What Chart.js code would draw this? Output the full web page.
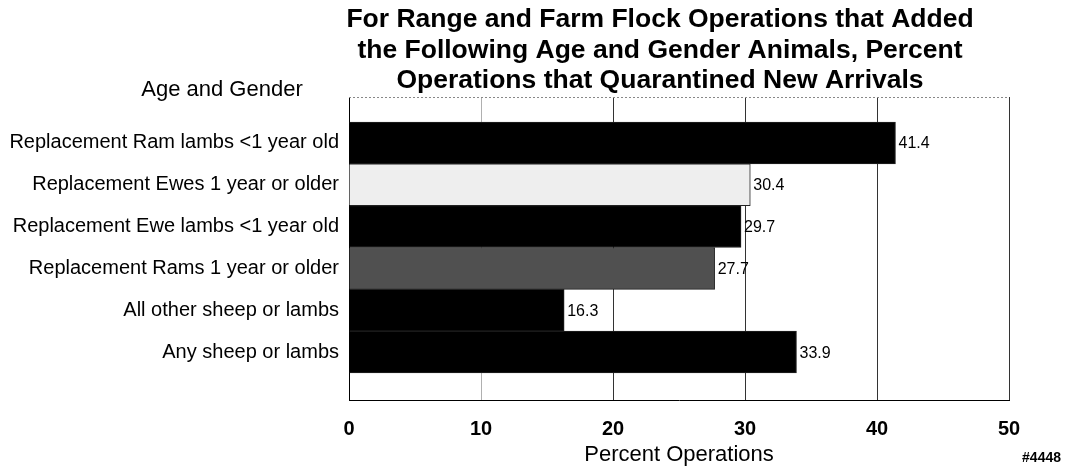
<!DOCTYPE html>
<html><head><meta charset="utf-8">
<script src="https://cdn.jsdelivr.net/npm/chart.js@4.4.1/dist/chart.umd.min.js"></script>
<style>html,body{margin:0;padding:0;background:#fff}#wrap{width:1065px;height:472px;position:relative;background:#fff}</style>
</head><body><div id="wrap"><canvas id="c"></canvas></div>
<script>
const categories = [
  'Replacement Ram lambs <1 year old',
  'Replacement Ewes 1 year or older',
  'Replacement Ewe lambs <1 year old',
  'Replacement Rams 1 year or older',
  'All other sheep or lambs',
  'Any sheep or lambs'
];
const values = [41.4, 30.4, 29.7, 27.7, 16.3, 33.9];
const barColors = ['#000000', '#eeeeee', '#000000', '#505050', '#000000', '#000000'];
const xTickValues = [0, 10, 20, 30, 40, 50];
const titleLines = [
  'For Range and Farm Flock Operations that Added',
  'the Following Age and Gender Animals, Percent',
  'Operations that Quarantined New Arrivals'
];
const yAxisTitle = 'Age and Gender';
const xAxisTitle = 'Percent Operations';
const figureId = '#4448';

const FONT = '"Liberation Sans", Arial, sans-serif';

const textPlugin = {
  id: 'texts',
  afterDraw(chart) {
    const ctx = chart.ctx;
    ctx.save();
    ctx.fillStyle = '#000';
    ctx.textBaseline = 'alphabetic';
    ctx.textAlign = 'center';
    ctx.font = 'bold 26.5px ' + FONT;
    const bases = [27, 57.5, 88];
    titleLines.forEach((t, i) => ctx.fillText(t, 660, bases[i]));
    ctx.font = '22px ' + FONT;
    ctx.fillText(yAxisTitle, 222, 96);
    ctx.textAlign = 'right';
    ctx.font = 'bold 14px ' + FONT;
    ctx.fillText(figureId, 1061, 462);
    const a = chart.chartArea;
    ctx.strokeStyle = '#888';
    ctx.lineWidth = 1;
    ctx.setLineDash([2, 2]);
    ctx.beginPath();
    ctx.moveTo(a.left, a.top + 0.5);
    ctx.lineTo(a.right, a.top + 0.5);
    ctx.stroke();
    ctx.restore();
  }
};

const valueLabels = {
  id: 'valueLabels',
  afterDatasetsDraw(chart) {
    const ctx = chart.ctx;
    const meta = chart.getDatasetMeta(0);
    ctx.save();
    ctx.font = '16px ' + FONT;
    ctx.fillStyle = '#000';
    ctx.textAlign = 'left';
    ctx.textBaseline = 'middle';
    meta.data.forEach((el, i) => {
      ctx.fillText(values[i].toFixed(1), el.x + 3, el.y + 1);
    });
    ctx.restore();
  }
};

const bgPlugin = {
  id: 'bg',
  beforeDraw(chart) {
    const ctx = chart.ctx;
    ctx.save();
    ctx.fillStyle = '#fff';
    ctx.fillRect(0, 0, chart.width, chart.height);
    ctx.restore();
  }
};

new Chart(document.getElementById('c'), {
  type: 'bar',
  data: {
    datasets: [{
      data: values.map((v, i) => ({ x: v, y: i })),
      backgroundColor: barColors,
      borderColor: '#222',
      borderWidth: 1,
      barPercentage: 1,
      categoryPercentage: 1
    }]
  },
  options: {
    indexAxis: 'y',
    responsive: true,
    maintainAspectRatio: false,
    animation: false,
    devicePixelRatio: 1,
    layout: { padding: { top: 97, right: 56, bottom: 0, left: 0 } },
    plugins: { legend: { display: false }, tooltip: { enabled: false }, title: { display: false } },
    scales: {
      x: {
        type: 'linear',
        min: 0, max: 50,
        afterBuildTicks: s => { s.ticks = xTickValues.map(v => ({ value: v })); },
        afterFit: s => { s.height = 72; },
        grid: {
          drawTicks: false,
          color: c => (c.tick && c.tick.value === 10) ? '#b0b0b0' : '#333',
          lineWidth: 1
        },
        border: { display: true, color: '#000', width: 1 },
        ticks: { padding: 17, color: '#000', font: { family: FONT, size: 20, weight: 'bold' } },
        title: { display: true, text: xAxisTitle, color: '#000', font: { family: FONT, size: 22 }, padding: { top: 0, bottom: 4 } }
      },
      y: {
        type: 'linear',
        reverse: true,
        offset: false,
        min: -1.098, max: 6.145,
        afterBuildTicks: s => { s.ticks = categories.map((_, i) => ({ value: i })); },
        afterFit: s => { s.width = 349; },
        grid: { display: false, drawTicks: false, offset: false },
        border: { display: true, color: '#000', width: 1 },
        ticks: {
          padding: 10, color: '#000', autoSkip: false,
          font: { family: FONT, size: 20 },
          callback: v => categories[v] !== undefined ? categories[v] : ''
        }
      }
    }
  },
  plugins: [bgPlugin, valueLabels, textPlugin]
});
</script>
</body></html>
